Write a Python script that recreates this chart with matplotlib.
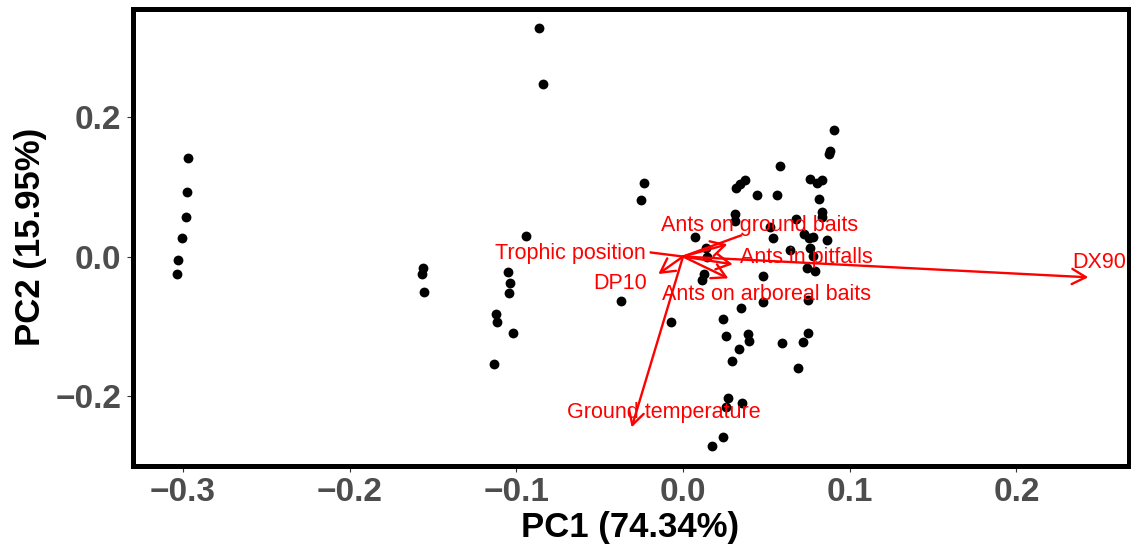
import numpy as np
import matplotlib
matplotlib.use('Agg')
import matplotlib.pyplot as plt

# ---------------------------------------------
# PCA scores
# ---------------------------------------------
pc1_scores = [-0.2968, -0.2974, -0.2980, -0.3007, -0.3031, -0.3035,
              -0.1561, -0.1567, -0.1554,
              -0.0940, -0.1048, -0.1036, -0.1044, -0.1124, -0.1118, -0.1018, -0.1132,
              -0.0864, -0.0838, -0.0232, -0.0252, -0.0374, -0.0074,
              0.0072, 0.0136, 0.0144, 0.0126, 0.0112,
              0.0903, 0.0882, 0.0878, 0.0582, 0.0762, 0.0834, 0.0804,
              0.0372, 0.0342, 0.0318, 0.0442, 0.0566, 0.0813,
              0.0836, 0.0834, 0.0314, 0.0312, 0.0676,
              0.0522, 0.0537, 0.0726, 0.0780, 0.0862, 0.0753,
              0.0642, 0.0762, 0.0780, 0.0742, 0.0791, 0.0482,
              0.0348, 0.0478, 0.0752, 0.0240, 0.0258, 0.0388, 0.0396, 0.0334,
              0.0294, 0.0594, 0.0722, 0.0751, 0.0687,
              0.0268, 0.0256, 0.0356, 0.0242, 0.0171]
pc2_scores = [0.1408, 0.0929, 0.0571, 0.0270, -0.0050, -0.0255,
              -0.0161, -0.0255, -0.0513,
              0.0290, -0.0218, -0.0376, -0.0528, -0.0824, -0.0935, -0.1097, -0.1537,
              0.3280, 0.2477, 0.1058, 0.0810, -0.0634, -0.0939,
              0.0284, 0.0118, -0.0003, -0.0251, -0.0337,
              0.1821, 0.1513, 0.1465, 0.1302, 0.1118, 0.1097, 0.1058,
              0.1097, 0.1047, 0.0989, 0.0882, 0.0882, 0.0829,
              0.0642, 0.0566, 0.0609, 0.0509, 0.0538,
              0.0423, 0.0272, 0.0323, 0.0280, 0.0237, 0.0272,
              0.0100, 0.0129, 0.0007, -0.0169, -0.0208, -0.0272,
              -0.0731, -0.0659, -0.0624, -0.0896, -0.1140, -0.1111, -0.1211, -0.1322,
              -0.1498, -0.1244, -0.1222, -0.1101, -0.1603,
              -0.2024, -0.2153, -0.2105, -0.2592, -0.2717]

# ---------------------------------------------
# loadings (arrows) and their labels
# ---------------------------------------------
arrow_pc1 = [0.2431, 0.0266, 0.0298, 0.0272, -0.0148, -0.0308]
arrow_pc2 = [-0.0298, 0.0175, -0.0112, -0.0313, -0.0251, -0.2449]
# strokes with no visible head
line_pc1 = [0.0354, -0.0200]
line_pc2 = [0.0308, 0.0060]

var_names = ['DX90', 'Ants on ground baits', 'Ants in pitfalls',
             'Ants on arboreal baits', 'DP10', 'Ground temperature', 'Trophic position']
label_x = [0.2496, 0.0459, 0.0738, 0.0498, -0.0378, -0.0114, -0.0678]
label_y = [-0.0079, 0.0438, -0.0020, -0.0538, -0.0380, -0.2229, 0.0050]

x_ticks = [-0.3, -0.2, -0.1, 0.0, 0.1, 0.2]
y_ticks = [-0.2, 0.0, 0.2]

# ---------------------------------------------
# plot
# ---------------------------------------------
plt.rcParams['font.family'] = ['Liberation Sans', 'DejaVu Sans']

fig = plt.figure(figsize=(11.31, 5.48), dpi=100)
ax = fig.add_axes([132.5 / 1131, 1 - 465.5 / 548, (1128.5 - 132.5) / 1131, (465.5 - 8.5) / 548])

ax.scatter(pc1_scores, pc2_scores, s=50, color='black', linewidths=0, zorder=2)

for xe, ye in zip(arrow_pc1, arrow_pc2):
    ax.annotate('', xy=(xe, ye), xytext=(0, 0),
                arrowprops=dict(arrowstyle='->,head_length=1.0,head_width=0.55',
                                color='red', lw=1.7, shrinkA=0, shrinkB=0,
                                mutation_scale=10),
                zorder=3)
for xe, ye in zip(line_pc1, line_pc2):
    ax.plot([0, xe], [0, ye], color='red', lw=1.7, zorder=3, solid_capstyle='butt')

for name, lx, ly in zip(var_names, label_x, label_y):
    ax.text(lx, ly, name, color='red', fontsize=15.5, ha='center', va='center', zorder=4)

ax.set_xlim(-0.3302, 0.2672)
ax.set_ylim(-0.2996, 0.3556)
ax.set_xticks(x_ticks)
ax.set_yticks(y_ticks)
ax.set_xticklabels(['\u2212%.1f' % abs(v) if v < 0 else '%.1f' % v for v in x_ticks])
ax.set_yticklabels(['\u2212%.1f' % abs(v) if v < 0 else '%.1f' % v for v in y_ticks])

for sp in ax.spines.values():
    sp.set_linewidth(3.6)
    sp.set_color('black')

ax.tick_params(direction='out', length=4.2, width=0.8, color='#333333',
               labelcolor='#4D4D4D', labelsize=24, pad=4)
for lab in ax.get_xticklabels() + ax.get_yticklabels():
    lab.set_fontweight('bold')

ax.set_xlabel('PC1 (74.34%)', fontsize=25, fontweight='bold', labelpad=2)
ax.set_ylabel('PC2 (15.95%)', fontsize=25, fontweight='bold', labelpad=6)

plt.savefig('out.png', dpi=100)
